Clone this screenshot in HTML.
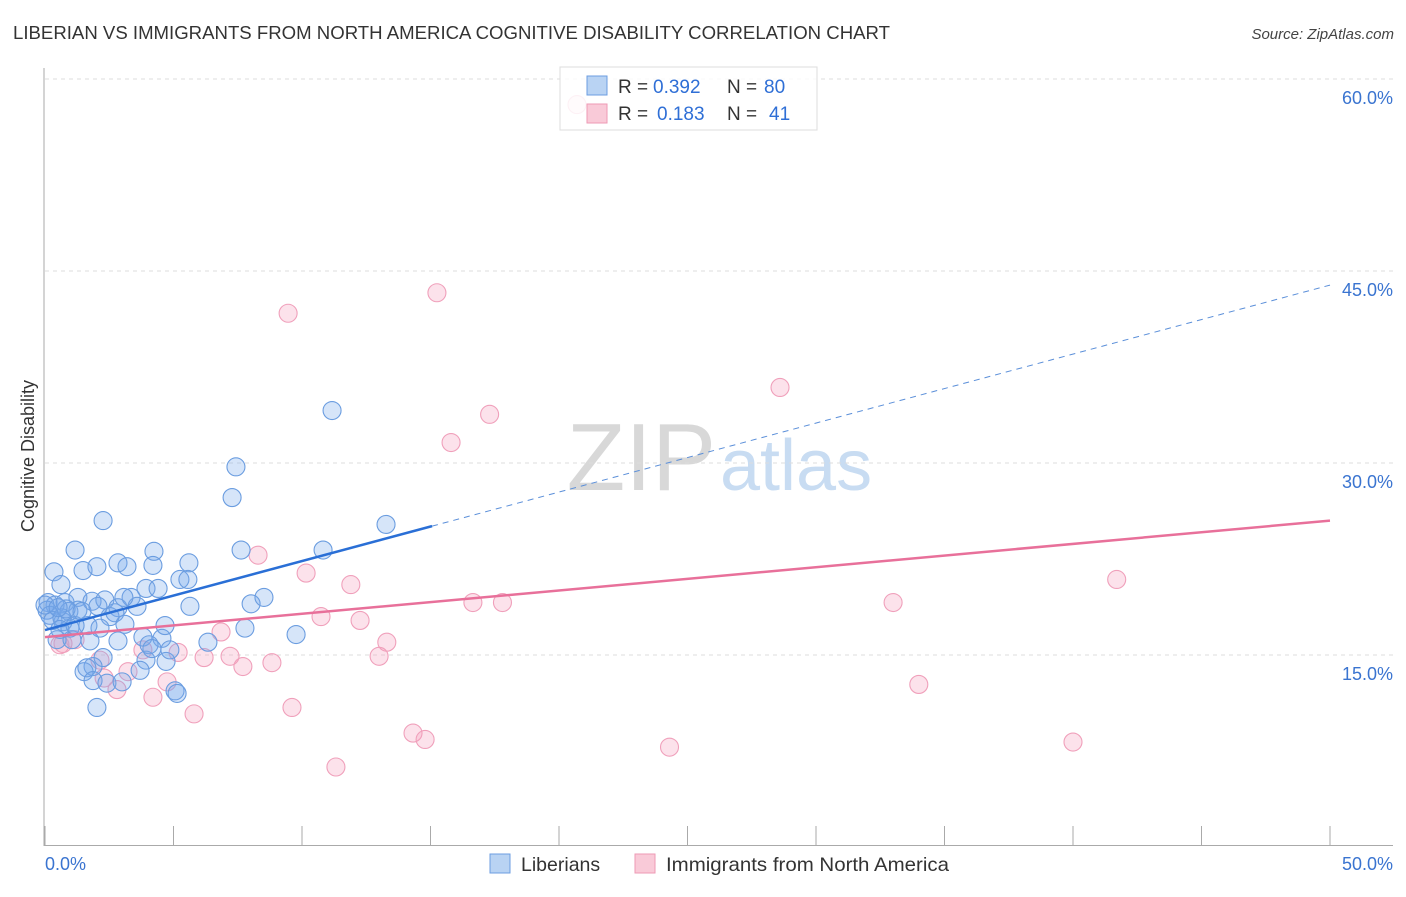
<!DOCTYPE html>
<html><head><meta charset="utf-8"><style>
body{margin:0;background:#fff;font-family:"Liberation Sans",sans-serif}
svg text{font-family:"Liberation Sans",sans-serif}
</style></head><body>
<svg id="chart" width="1406" height="892" xmlns="http://www.w3.org/2000/svg">
<text x="13" y="39" font-size="18" fill="#333" textLength="877" lengthAdjust="spacingAndGlyphs">LIBERIAN VS IMMIGRANTS FROM NORTH AMERICA COGNITIVE DISABILITY CORRELATION CHART</text>
<text x="1394" y="39" font-size="15" fill="#444" text-anchor="end" font-style="italic">Source: ZipAtlas.com</text>
<text x="716" y="490" font-size="96" text-anchor="end" fill="#d8d8d8" font-family="Liberation Serif">ZIP</text>
<text x="720" y="490" font-size="72" fill="#c8dcf2">atlas</text>
<text transform="translate(34,456) rotate(-90)" font-size="18" fill="#333" text-anchor="middle">Cognitive Disability</text>
<g id="grid"></g><g id="axes"></g><g id="marks"></g>
<g>
<rect x="560" y="67" width="257" height="63" fill="#fff" fill-opacity="0.85" stroke="#ddd"/>
<rect x="587" y="76" width="20" height="19" fill="#b9d3f3" stroke="#6c9ee0"/>
<rect x="587" y="104" width="20" height="19" fill="#f9cad8" stroke="#ee9ab5"/>
<text x="618" y="93" font-size="19" fill="#333">R =</text>
<text x="653" y="93" font-size="19" fill="#2f6fd6">0.392</text>
<text x="727" y="93" font-size="19" fill="#333">N =</text>
<text x="764" y="93" font-size="19" fill="#2f6fd6">80</text>
<text x="618" y="120" font-size="19" fill="#333">R =</text>
<text x="657" y="120" font-size="19" fill="#2f6fd6">0.183</text>
<text x="727" y="120" font-size="19" fill="#333">N =</text>
<text x="769" y="120" font-size="19" fill="#2f6fd6">41</text>
</g>
<g>
<rect x="490" y="854" width="20" height="19" fill="#b9d3f3" stroke="#6c9ee0"/>
<text x="521" y="871" font-size="19.5" fill="#333">Liberians</text>
<rect x="635" y="854" width="20" height="19" fill="#f9cad8" stroke="#ee9ab5"/>
<text x="666" y="871" font-size="19.5" fill="#333" textLength="283" lengthAdjust="spacingAndGlyphs">Immigrants from North America</text>
</g>
</svg>
<script>
const blueX=[2.26,1.17,0.35,0.62,1.48,2.02,2.84,3.19,4.24,4.20,5.60,5.25,5.56,3.93,4.40,0.12,0.39,0.78,1.28,1.83,2.33,2.84,3.35,3.58,3.07,2.53,0.93,1.28,1.67,0.70,0.97,0.47,1.05,1.75,2.84,3.81,4.55,4.67,4.05,3.93,4.71,2.26,1.87,1.52,1.63,1.87,2.41,3.00,5.06,5.14,2.02,5.64,6.34,7.28,7.43,7.63,7.78,8.02,8.52,9.77,10.82,11.17,13.27,0.08,0.19,0.31,0.66,0.82,1.17,1.44,2.06,2.14,2.72,3.70,4.16,4.86,0.0,0.51,0.58,3.11];
const blueY=[25.5,23.2,21.5,20.5,21.6,21.9,22.2,21.9,23.1,22.0,22.2,20.9,20.9,20.2,20.2,19.1,18.9,19.1,19.5,19.2,19.3,18.7,19.5,18.8,19.5,18.0,18.4,18.5,17.3,17.6,17.1,16.2,16.2,16.1,16.1,16.4,16.3,17.3,15.8,14.6,14.5,14.8,14.1,13.7,14.0,13.0,12.8,12.9,12.2,12.0,10.9,18.8,16.0,27.3,29.7,23.2,17.1,19.0,19.5,16.6,23.2,34.1,25.2,18.5,18.1,17.7,17.9,18.6,17.3,18.4,18.8,17.1,18.3,13.8,15.5,15.4,18.9,18.7,17.0,17.4];
const pinkX=[20.7,15.25,9.46,17.3,15.8,28.6,8.29,10.16,11.9,41.7,16.65,17.8,33.0,10.74,12.26,6.85,13.3,13.0,7.2,6.19,7.7,8.83,5.18,3.81,3.23,2.30,2.80,4.20,4.75,5.80,9.61,14.32,14.79,11.32,24.3,34.0,40.0,0.70,1.17,2.14,0.58];
const pinkY=[58.0,43.3,41.7,33.8,31.6,35.9,22.8,21.4,20.5,20.9,19.1,19.1,19.1,18.0,17.7,16.8,16.0,14.9,14.9,14.8,14.1,14.4,15.2,15.4,13.7,13.2,12.3,11.7,12.9,10.4,10.9,8.9,8.4,6.25,7.8,12.7,8.2,15.9,16.2,14.6,15.8];
const blueTrend=[16.95,43.9]; const blueSolidEnd=15.06;
const pinkTrend=[16.4,25.5];
const yTicks=[15,30,45,60];
const xTickVals=[0,5,10,15,20,25,30,35,40,45,50];
const NS="http://www.w3.org/2000/svg";
const sx=v=>45+v*25.7, sy=v=>847-v*12.8;
function mk(tag,attrs,parent){const e=document.createElementNS(NS,tag);for(const k in attrs)e.setAttribute(k,attrs[k]);document.getElementById(parent).appendChild(e);return e;}
yTicks.forEach(t=>{
 const g=mk('line',{x1:45,x2:1393,y1:sy(t),y2:sy(t),stroke:'#ddd','stroke-dasharray':'4,4'},'grid');
 
 
 const l=mk('text',{x:1393,y:sy(t)+25,'font-size':18,fill:'#3a74d0','text-anchor':'end'},'grid');
 l.textContent=t.toFixed(1)+'%';
 
 
});
let a=mk('line',{x1:44,x2:44,y1:68,y2:846,stroke:'#aaa'},'axes');


a=mk('line',{x1:44,x2:1393,y1:845.5,y2:845.5,stroke:'#aaa'},'axes');


xTickVals.forEach(t=>{
 const e=mk('line',{x1:sx(t),x2:sx(t),y1:826,y2:846,stroke:'#aaa'},'axes');
 
 
});
let xl=mk('text',{x:45,y:870,'font-size':18,fill:'#3a74d0'},'axes');xl.textContent='0.0%';


xl=mk('text',{x:1393,y:870,'font-size':18,fill:'#3a74d0','text-anchor':'end'},'axes');xl.textContent='50.0%';


pinkX.forEach((x,i)=>{
 const c=mk('circle',{cx:sx(x),cy:sy(pinkY[i]),r:9,fill:'rgba(245,160,190,0.3)',stroke:'#f0a0bb','stroke-width':1.1},'marks');
 
 
});
blueX.forEach((x,i)=>{
 const c=mk('circle',{cx:sx(x),cy:sy(blueY[i]),r:9,fill:'rgba(120,170,235,0.3)',stroke:'#6b9de0','stroke-width':1.1},'marks');
 
 
});
const bAt=v=>blueTrend[0]+(blueTrend[1]-blueTrend[0])*v/50;
let t=mk('line',{x1:sx(0),y1:sy(pinkTrend[0]),x2:sx(50),y2:sy(pinkTrend[1]),stroke:'#e8709a','stroke-width':2.5},'marks');


t=mk('line',{x1:sx(0),y1:sy(bAt(0)),x2:sx(blueSolidEnd),y2:sy(bAt(blueSolidEnd)),stroke:'#2a6fd6','stroke-width':2.5},'marks');


t=mk('line',{x1:sx(blueSolidEnd),y1:sy(bAt(blueSolidEnd)),x2:sx(50),y2:sy(bAt(50)),stroke:'#5b8fd9','stroke-width':1,'stroke-dasharray':'6,5'},'marks');


</script>
</body></html>
